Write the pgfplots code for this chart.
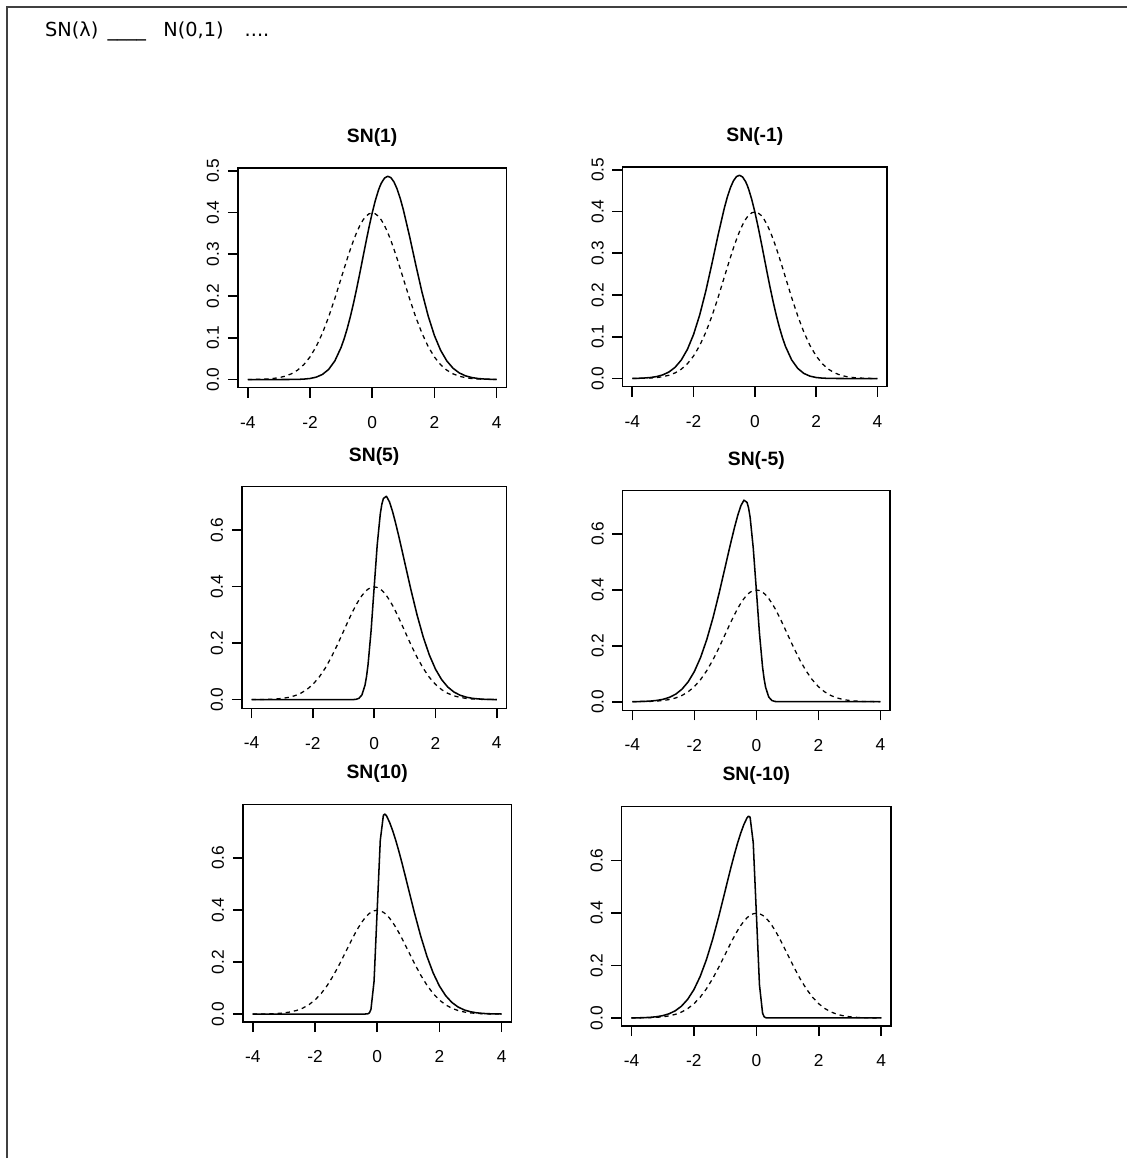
\documentclass[border=0pt]{standalone}
\usepackage{fontspec}
\setmainfont{Liberation Sans}
\newfontfamily\topfont{DejaVu Sans}
\usepackage{pgfplots}
\usepackage{pgfplotstable}
\pgfplotsset{compat=1.18}

% densities: N(0,1) and SN(lambda) for lambda = 1, 5, 10
\pgfplotstableread{
x     n        sn1      sn5      sn10
-4.0  0.000134 0.000000 0.000000 0.000000
-3.8  0.000292 0.000000 0.000000 0.000000
-3.6  0.000612 0.000000 0.000000 0.000000
-3.4  0.001232 0.000001 0.000000 0.000000
-3.2  0.002384 0.000003 0.000000 0.000000
-3.0  0.004432 0.000012 0.000000 0.000000
-2.8  0.007915 0.000041 0.000000 0.000000
-2.6  0.013583 0.000127 0.000000 0.000000
-2.4  0.022395 0.000367 0.000000 0.000000
-2.2  0.035475 0.000986 0.000000 0.000000
-2.0  0.053991 0.002457 0.000000 0.000000
-1.8  0.078950 0.005673 0.000000 0.000000
-1.6  0.110921 0.012157 0.000000 0.000000
-1.4  0.149727 0.024184 0.000000 0.000000
-1.2  0.194186 0.044690 0.000000 0.000000
-1.0  0.241971 0.076782 0.000000 0.000000
-0.9  0.266085 0.097951 0.000002 0.000000
-0.8  0.289692 0.122749 0.000018 0.000000
-0.7  0.312254 0.151106 0.000145 0.000000
-0.6  0.333225 0.182775 0.000900 0.000000
-0.5  0.352065 0.217252 0.004373 0.000000
-0.4  0.368270 0.253797 0.016756 0.000023
-0.3  0.381388 0.291450 0.050961 0.001030
-0.25 0.386668 0.310332 0.081703 0.004802
-0.2  0.391043 0.329055 0.124086 0.017792
-0.1  0.396953 0.365332 0.244952 0.125961
0.0   0.398942 0.398942 0.398942 0.398942
0.1   0.396953 0.428574 0.548954 0.667948
0.2   0.391043 0.453031 0.658000 0.764289
0.25  0.386668 0.463004 0.691632 0.768534
0.3   0.381388 0.471327 0.711815 0.761746
0.4   0.368270 0.482743 0.719784 0.736518
0.5   0.352065 0.486883 0.699757 0.704130
0.6   0.333225 0.483676 0.665550 0.666450
0.7   0.312254 0.473402 0.624364 0.624508
0.8   0.289692 0.456635 0.579367 0.579384
0.9   0.266085 0.434218 0.532170 0.532170
1.0   0.241971 0.407160 0.483942 0.483942
1.2   0.194186 0.343682 0.388372 0.388372
1.4   0.149727 0.275270 0.299454 0.299454
1.6   0.110921 0.209685 0.221842 0.221842
1.8   0.078950 0.152227 0.157900 0.157900
2.0   0.053991 0.105525 0.107982 0.107982
2.2   0.035475 0.069964 0.070950 0.070950
2.4   0.022395 0.044423 0.044790 0.044790
2.6   0.013583 0.027039 0.027166 0.027166
2.8   0.007915 0.015789 0.015830 0.015830
3.0   0.004432 0.008852 0.008864 0.008864
3.2   0.002384 0.004765 0.004768 0.004768
3.4   0.001232 0.002463 0.002464 0.002464
3.6   0.000612 0.001224 0.001224 0.001224
3.8   0.000292 0.000584 0.000584 0.000584
4.0   0.000134 0.000268 0.000268 0.000268
}\sndata

\pgfplotsset{
  snax/.style={
    scale only axis,
    anchor=north west,
    xmin=-4.32, xmax=4.32,
    xtick={-4,-2,0,2,4},
    tick align=outside,
    xtick pos=left, ytick pos=left,
    major tick length=7.5pt,
    axis line style={line width=1.2pt},
    every tick/.style={black, line width=1.2pt},
    /pgf/number format/assume math mode=true,
    tick label style={font=\fontsize{13}{15}\selectfont},
    yticklabel style={rotate=90, anchor=south,
      /pgf/number format/.cd, fixed, fixed zerofill, precision=1},
    xticklabel shift=10.5pt,
    yticklabel shift=3pt,
    title style={font=\bfseries\fontsize{14.5}{16}\selectfont,
      at={(0.5,1)}, anchor=south, yshift=6.5pt},
  },
  snline/.style={black, line width=1.15pt, line join=round},
  nline/.style={black, line width=0.95pt, dash pattern=on 3.2pt off 3pt},
}

\begin{document}
\begin{tikzpicture}
\path (0,0) rectangle (846pt,-869.25pt);
\draw[line width=1.5pt, black!75] (5.6pt,-869.25pt) -- (5.6pt,-4.9pt) -- (846pt,-4.9pt);
\node[anchor=base west, inner sep=0pt] at (33.75pt,-27.75pt) {\topfont\fontsize{14.5}{16}\selectfont SN(λ)};
\node[anchor=base west, inner sep=0pt] at (80.5pt,-27.75pt) {\topfont\fontsize{14.5}{16}\selectfont \_\_\_\_};
\node[anchor=base west, inner sep=0pt] at (122.5pt,-27.75pt) {\topfont\fontsize{14.5}{16}\selectfont N(0,1)};
\node[anchor=base west, inner sep=0pt] at (183.5pt,-27.75pt) {\topfont\fontsize{14.5}{16}\selectfont ....};

% row 1
\begin{axis}[snax, at={(178.5pt,-126pt)}, width=201.75pt, height=165pt,
  ymin=-0.0195, ymax=0.507, ytick={0,0.1,0.2,0.3,0.4,0.5}, title={SN(1)}]
  \addplot[snline] table[x=x, y=sn1] {\sndata};
  \addplot[nline] table[x=x, y=n] {\sndata};
\end{axis}
\begin{axis}[snax, at={(467.25pt,-125.25pt)}, width=198.75pt, height=165pt,
  ymin=-0.0195, ymax=0.507, ytick={0,0.1,0.2,0.3,0.4,0.5}, title={SN(-1)}]
  \addplot[snline] table[x expr=-\thisrow{x}, y=sn1] {\sndata};
  \addplot[nline] table[x=x, y=n] {\sndata};
\end{axis}

% row 2
\begin{axis}[snax, at={(181.5pt,-365.25pt)}, width=198.75pt, height=166.5pt,
  ymin=-0.031, ymax=0.754, ytick={0,0.2,0.4,0.6}, title={SN(5)}]
  \addplot[snline] table[x=x, y=sn5] {\sndata};
  \addplot[nline] table[x=x, y=n] {\sndata};
\end{axis}
\begin{axis}[snax, at={(467.25pt,-368.25pt)}, width=201pt, height=165pt,
  ymin=-0.031, ymax=0.754, ytick={0,0.2,0.4,0.6}, title={SN(-5)}]
  \addplot[snline] table[x expr=-\thisrow{x}, y=sn5] {\sndata};
  \addplot[nline] table[x=x, y=n] {\sndata};
\end{axis}

% row 3
\begin{axis}[snax, at={(182.25pt,-603.75pt)}, width=201.75pt, height=163.5pt,
  ymin=-0.031, ymax=0.806, ytick={0,0.2,0.4,0.6}, title={SN(10)}]
  \addplot[snline] table[x=x, y=sn10] {\sndata};
  \addplot[nline] table[x=x, y=n] {\sndata};
\end{axis}
\begin{axis}[snax, at={(466.5pt,-605.25pt)}, width=202.5pt, height=165pt,
  ymin=-0.031, ymax=0.806, ytick={0,0.2,0.4,0.6}, title={SN(-10)}]
  \addplot[snline] table[x expr=-\thisrow{x}, y=sn10] {\sndata};
  \addplot[nline] table[x=x, y=n] {\sndata};
\end{axis}
\end{tikzpicture}
\end{document}
